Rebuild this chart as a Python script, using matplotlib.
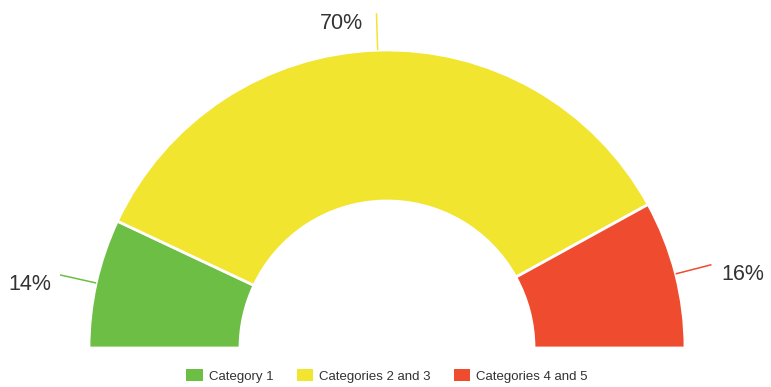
import numpy as np
import matplotlib.pyplot as plt
from matplotlib.patches import Patch

plt.rcParams['font.family'] = ['Liberation Sans', 'DejaVu Sans']

# slice data
categories = ['Category 1', 'Categories 2 and 3', 'Categories 4 and 5']
shares = [14, 70, 16]
colors = ['#6cbe45', '#f2e52f', '#ee4b2f']

W, H = 771, 387
fig = plt.figure(figsize=(W / 100, H / 100), dpi=100)
ax = fig.add_axes([0, 0, 1, 1])

cx, cy = 387, 39          # centre of the half ring (pixels, y up)
r_out, ring = 298, 151

# pie over the full circle: the visible half holds the data, the other half is blank
vals = shares + [sum(shares)]
wedges, _ = ax.pie(vals, colors=colors + ['none'], startangle=180, counterclock=False,
                   center=(cx, cy), radius=r_out,
                   wedgeprops=dict(width=ring, edgecolor='white', linewidth=2))
wedges[-1].set_edgecolor('none')

# labels with connectors
total = 2 * sum(shares)
start = 180.0
for val, col in zip(shares, colors):
    sweep = 360.0 * val / total
    mid = np.deg2rad(start - sweep / 2)
    start -= sweep
    x0, y0 = cx + r_out * np.cos(mid), cy + r_out * np.sin(mid)
    x1, y1 = cx + (r_out + 37) * np.cos(mid), cy + (r_out + 37) * np.sin(mid)
    ax.plot([x0, x1], [y0, y1], color=col, lw=1.1, solid_capstyle='butt')
    left = np.cos(mid) <= 0
    if abs(np.cos(mid)) < 0.2:
        gap = 13
    else:
        gap = 9 if left else 10
    ax.text(x1 - gap if left else x1 + gap, y1 - 10, f'{val}%',
            ha='right' if left else 'left', va='center',
            fontsize=15.5, color='#333333')

ax.set_xlim(0, W)
ax.set_ylim(0, H)
ax.set_aspect('equal')
ax.axis('off')

handles = [Patch(facecolor=c, edgecolor='none') for c in colors]
fig.legend(handles, categories, loc='center', bbox_to_anchor=(cx / W, 1 - 376 / H),
           ncol=3, frameon=False, fontsize=9.5, labelcolor='#333333',
           handlelength=1.25, handleheight=1.0, handletextpad=0.45,
           columnspacing=1.75)

fig.savefig('out.png', dpi=100)
